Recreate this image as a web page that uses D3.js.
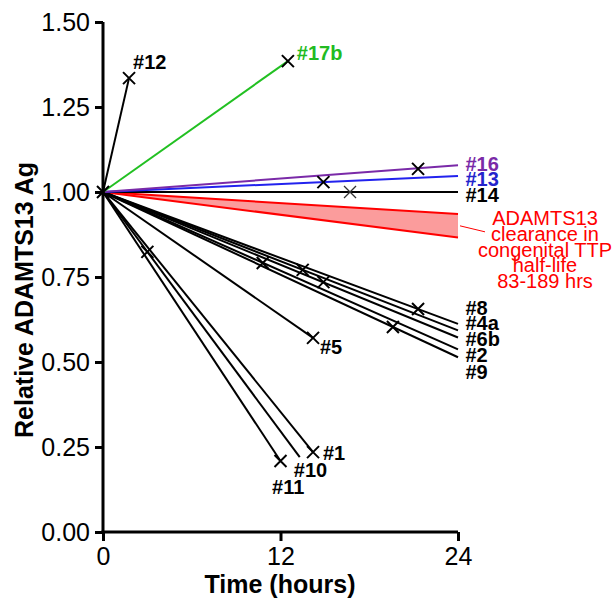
<!DOCTYPE html>
<html>
<head>
<meta charset="utf-8">
<script src="https://cdn.jsdelivr.net/npm/d3@7"></script>
<style>
  html, body { margin: 0; padding: 0; background: #fff; }
  svg { display: block; font-family: "Liberation Sans", Arial, sans-serif; }
</style>
</head>
<body>
<svg id="chart" width="615" height="602"></svg>
<script>
// ---------------- data ----------------
const ids        = ["#12", "#17b", "#16", "#13", "#14", "#8", "#4a", "#6b", "#2", "#9", "#5", "#1", "#10", "#11"];
const endTime    = [1.76, 12.5, 24, 24, 24, 24, 24, 24, 24, 24, 14.2, 14.2, 13.3, 12.0];
const endValue   = [1.335, 1.385, 1.079, 1.047, 1.0, 0.612, 0.593, 0.572, 0.537, 0.514, 0.571, 0.235, 0.22, 0.209];
const markTime   = [1.76, 12.5, 21.3, 14.9, 16.7, 21.3, 13.5, 14.9, 10.8, 19.6, 14.2, 14.2, 3.0, 12.0];
const markValue  = [1.335, 1.385, 1.068, 1.029, 1.0, 0.656, 0.771, 0.735, 0.791, 0.603, 0.571, 0.235, 0.824, 0.209];
const seriesColor = ["#000", "#22c022", "#7a2aa8", "#2222ee", "#000", "#000", "#000", "#000", "#000", "#000", "#000", "#000", "#000", "#000"];
const labelColor  = ["#000", "#22bb22", "#7a2aa8", "#2424cc", "#000", "#000", "#000", "#000", "#000", "#000", "#000", "#000", "#000", "#000"];
// label anchor points in data units (time, value)
const labelTime  = [2.03, 13.1, 24.5, 24.5, 24.5, 24.5, 24.5, 24.5, 24.5, 24.5, 14.67, 14.87, 12.9, 11.43];
const labelValue = [1.382, 1.409, 1.082, 1.038, 0.991, 0.659, 0.615, 0.568, 0.521, 0.471, 0.544, 0.232, 0.182, 0.132];

// clearance band (half-life 83-189 hrs) at 24 h
const bandTime = [0, 24];
const bandUpper = [1.0, 0.935];
const bandLower = [1.0, 0.866];
const bandText = ["ADAMTS13", "clearance in", "congenital TTP", "half-life", "83-189 hrs"];

const xTicks = [0, 12, 24];
const yTicks = [0, 0.25, 0.5, 0.75, 1.0, 1.25, 1.5];
const xTitle = "Time (hours)";
const yTitle = "Relative ADAMTS13 Ag";

// ---------------- layout ----------------
const svg = d3.select("#chart");
const x = d3.scaleLinear().domain([0, 24]).range([103, 458]);
const y = d3.scaleLinear().domain([0, 1.5]).range([532, 22]);

// red band
const bandData = bandTime.map((t, i) => ({t, hi: bandUpper[i], lo: bandLower[i]}));
svg.append("path")
  .datum(bandData)
  .attr("d", d3.area().x(d => x(d.t)).y0(d => y(d.lo)).y1(d => y(d.hi)))
  .attr("fill", "#fb9c9c");
svg.append("path").datum(bandData)
  .attr("d", d3.line().x(d => x(d.t)).y(d => y(d.hi)))
  .attr("stroke", "#ff0000").attr("stroke-width", 2).attr("fill", "none");
svg.append("path").datum(bandData)
  .attr("d", d3.line().x(d => x(d.t)).y(d => y(d.lo)))
  .attr("stroke", "#ff0000").attr("stroke-width", 2).attr("fill", "none");

// series lines
const series = ids.map((id, i) => ({
  id, i,
  pts: [{t: 0, v: 1}, {t: endTime[i], v: endValue[i]}],
  mt: markTime[i], mv: markValue[i]
}));
const order = [0,5,6,7,8,9,10,11,12,13,4,3,2,1];
const lineGen = d3.line().x(d => x(d.t)).y(d => y(d.v));
order.forEach(k => {
  const s = series[k];
  svg.append("path").datum(s.pts)
    .attr("d", lineGen)
    .attr("stroke", seriesColor[k])
    .attr("stroke-width", 2)
    .attr("fill", "none");
});

// markers
function cross(cx, cy, r, w, col) {
  svg.append("path")
    .attr("d", `M${cx - r},${cy - r}L${cx + r},${cy + r}M${cx - r},${cy + r}L${cx + r},${cy - r}`)
    .attr("stroke", col).attr("stroke-width", w).attr("fill", "none");
}
series.forEach(s => {
  const thin = s.id === "#14";
  cross(x(s.mt), y(s.mv), 6, thin ? 1.3 : 2, thin ? "#333" : "#000");
});
cross(x(0), y(1), 6, 2, "#000");

// series labels
series.forEach(s => {
  svg.append("text")
    .attr("x", x(labelTime[s.i]))
    .attr("y", y(labelValue[s.i]))
    .attr("dy", "0.36em")
    .attr("font-size", 20)
    .attr("font-weight", "bold")
    .attr("fill", labelColor[s.i])
    .text(s.id);
});

// band annotation
svg.append("line")
  .attr("x1", x(24) + 2).attr("y1", y((bandUpper[1] + bandLower[1]) / 2))
  .attr("x2", x(24) + 27).attr("y2", y((bandUpper[1] + bandLower[1]) / 2) + 6)
  .attr("stroke", "#ff0000").attr("stroke-width", 1);
const bt = svg.append("text")
  .attr("x", 545).attr("y", 225)
  .attr("text-anchor", "middle")
  .attr("font-size", 20)
  .attr("fill", "#ff0000");
bandText.forEach((line, i) => {
  bt.append("tspan").attr("x", 545).attr("dy", i === 0 ? 0 : 15.8).text(line);
});

// axes
const yAxis = d3.axisLeft(y).tickValues(yTicks).tickFormat(d3.format(".2f"))
  .tickSize(8).tickSizeOuter(0).tickPadding(5);
const xAxis = d3.axisBottom(x).tickValues(xTicks).tickFormat(d3.format("d"))
  .tickSize(9).tickSizeOuter(0).tickPadding(6);

const gy = svg.append("g").attr("transform", `translate(${x(0)},0)`).call(yAxis);
const gx = svg.append("g").attr("transform", `translate(0,${y(0)})`).call(xAxis);
[gx, gy].forEach(g => {
  g.select(".domain").attr("stroke", "#000").attr("stroke-width", 3);
  g.selectAll(".tick line").attr("stroke", "#000").attr("stroke-width", 3);
  g.selectAll(".tick text").attr("font-size", 25).attr("fill", "#000")
    .attr("font-family", "Liberation Sans, Arial, sans-serif");
});
// extend domains to cover the joint
gy.select(".domain").attr("d", `M0,${y(1.5)}V${y(0) + 1.5}`);
gx.select(".domain").attr("d", `M${-1.5 + x(0)},0H${x(24)}`);

// titles
svg.append("text")
  .attr("x", 280).attr("y", 593)
  .attr("text-anchor", "middle")
  .attr("font-size", 25).attr("font-weight", "bold")
  .text(xTitle);
svg.append("text")
  .attr("transform", "translate(33,300) rotate(-90)")
  .attr("text-anchor", "middle")
  .attr("font-size", 25).attr("font-weight", "bold")
  .text(yTitle);
</script>
</body>
</html>
